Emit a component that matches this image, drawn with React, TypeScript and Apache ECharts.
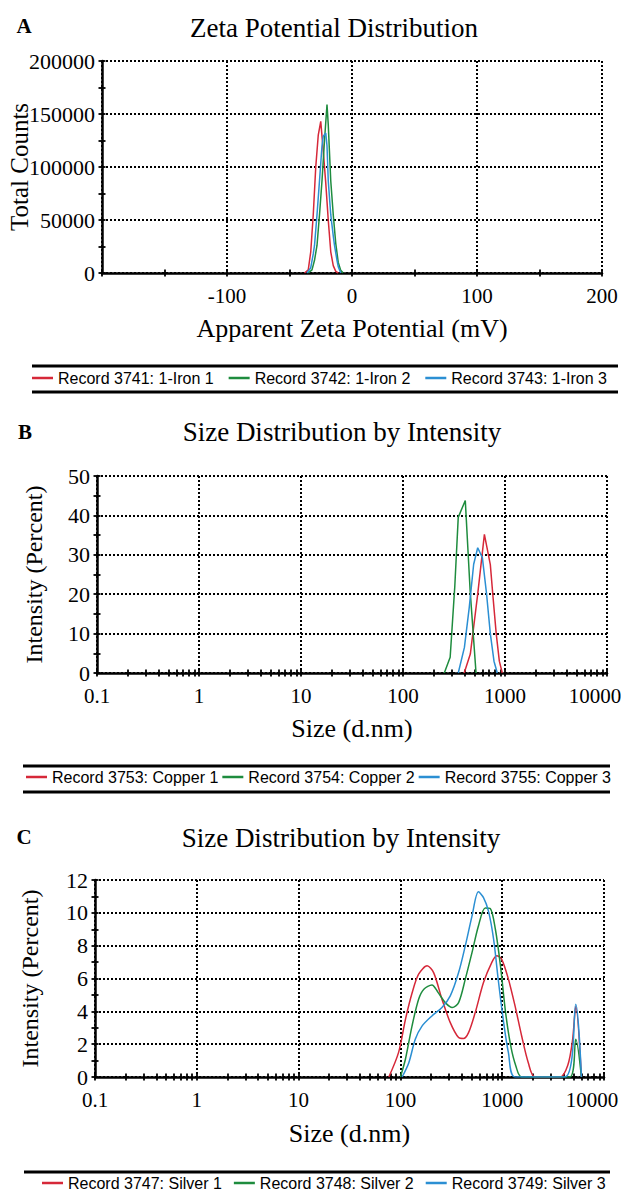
import React, { useEffect, useRef } from 'react';
import * as echarts from 'echarts';

const SERIF = '"Liberation Serif", "Times New Roman", serif';
const SANS = '"Liberation Sans", Arial, sans-serif';
const COLORS = ['#d62839', '#1e8c3e', '#2b8fd3'];

// ---------- Panel A: zeta potential (mV, total counts) ----------
const ironNames = ['Record 3741: 1-Iron 1', 'Record 3742: 1-Iron 2', 'Record 3743: 1-Iron 3'];
const iron1 = [[-38, 0], [-35, 3000], [-33, 20000], [-31, 55000], [-29, 100000], [-27, 130000], [-25, 143000], [-23, 115000], [-21, 85000], [-19, 50000], [-17, 20000], [-15, 7000], [-13, 1500], [-11, 0]];
const iron2 = [[-35, 0], [-32, 3000], [-30, 12000], [-28, 26000], [-26, 55000], [-24, 87000], [-22, 125000], [-20, 159000], [-19, 140000], [-17, 87000], [-15, 55000], [-13, 28000], [-11, 10000], [-9, 2500], [-7, 0]];
const iron3 = [[-36, 0], [-33, 5000], [-31, 18000], [-30, 26000], [-28, 55000], [-26, 87000], [-24, 120000], [-23, 129000], [-21, 132000], [-20, 120000], [-19, 87000], [-17, 55000], [-15, 35000], [-14, 26000], [-12, 12000], [-11, 6000], [-9, 0]];
const zetaTicks = [-200, -150, -100, -50, 0, 50, 100, 150, 200];
const countTicks = [0, 25000, 50000, 75000, 100000, 125000, 150000, 175000, 200000];

// ---------- Panel B: copper size distribution (d.nm, %) ----------
const copperNames = ['Record 3753: Copper 1', 'Record 3754: Copper 2', 'Record 3755: Copper 3'];
const copper1 = [[398, 0], [457, 4.8], [540, 20], [628, 35.2], [718, 27.5], [760, 19.8], [820, 10], [880, 3], [940, 0]];
const copper2 = [[254, 0], [290, 4], [322, 22], [348, 39.5], [408, 43.8], [455, 21], [520, 0]];
const copper3 = [[348, 0], [400, 6.5], [446, 16.6], [493, 27.6], [540, 31.8], [600, 29.3], [660, 20], [718, 10], [780, 3], [840, 0]];
const percentTicksB = [0, 5, 10, 15, 20, 25, 30, 35, 40, 45, 50];

// ---------- Panel C: silver size distribution (d.nm, %) ----------
const silverNames = ['Record 3747: Silver 1', 'Record 3748: Silver 2', 'Record 3749: Silver 3'];
const silver1 = [[77, 0], [96, 1.5], [112, 3.5], [130, 5.1], [151, 6.26], [183, 6.77], [212, 6.36], [256, 4.74], [309, 3.31], [373, 2.4], [417, 2.34], [467, 2.7], [543, 3.92], [655, 5.75], [789, 6.97], [884, 7.38], [989, 7.17], [1151, 5.96], [1337, 4.33], [1553, 2.5], [1804, 0.87], [2100, 0], [3700, 0], [4400, 0.7], [4900, 2.2], [5280, 4.3], [6000, 0]];
const silver2 = [[100, 0], [112, 1.08], [130, 3.1], [151, 4.74], [170, 5.35], [204, 5.61], [235, 5.14], [276, 4.53], [323, 4.23], [373, 4.53], [434, 5.96], [505, 7.58], [584, 9.2], [681, 10.3], [763, 10.26], [857, 9.0], [962, 6.77], [1080, 3.92], [1213, 1.89], [1362, 0.67], [1553, 0], [4610, 0], [5280, 2.3], [6000, 0]];
const silver3 = [[104, 0], [121, 0.87], [140, 2.3], [163, 3.1], [204, 3.72], [256, 4.23], [309, 4.94], [373, 6.36], [434, 7.99], [505, 9.8], [584, 11.28], [655, 10.93], [733, 10.1], [823, 8.4], [913, 5.96], [1024, 3.5], [1151, 1.48], [1337, 0], [4120, 0], [5280, 4.43], [6000, 0]];
const percentTicksC = [0, 1, 2, 3, 4, 5, 6, 7, 8, 9, 10, 11, 12];

const sizeTicks = [
  0.1, 0.2, 0.3, 0.4, 0.5, 0.6, 0.7, 0.8, 0.9,
  1, 2, 3, 4, 5, 6, 7, 8, 9,
  10, 20, 30, 40, 50, 60, 70, 80, 90,
  100, 200, 300, 400, 500, 600, 700, 800, 900,
  1000, 2000, 3000, 4000, 5000, 6000, 7000, 8000, 9000, 10000,
];

const tickLine = { color: '#000', width: 1.8 };
const axisLine = { show: true, onZero: false, lineStyle: { color: '#000', width: 2.5 } };
const gridLine = { show: true, lineStyle: { color: '#000', width: 2, type: [2, 2] as any } };
const xLabelStyle = { color: '#000', fontFamily: SERIF, fontSize: 21 };
const yLabelStyle = { color: '#000', fontFamily: SERIF, fontSize: 22 };
const xNameStyle = { color: '#000', fontFamily: SERIF, fontSize: 26 };
const yNameStyle = { color: '#000', fontFamily: SERIF, fontSize: 24 };

// main axis (line, labels, grid) + two tick-only overlays (inside / outside) so that ticks cross the axis
function axisSet(base: any, ticks: number[], mainExtra: any) {
  const main = {
    ...base,
    axisLine,
    axisTick: { show: false },
    splitLine: gridLine,
    nameMoveOverlap: false,
    ...mainExtra,
  };
  const tickAxis = (inside: boolean) => ({
    ...base,
    axisLine: { show: false, onZero: false },
    axisTick: { show: true, inside, length: 3.5, customValues: ticks, lineStyle: tickLine },
    axisLabel: { show: false },
    splitLine: { show: false },
  });
  return [main, tickAxis(true), tickAxis(false)];
}

const plain = (v: number) => String(v);
// the last log label sits a little left of its tick, as in the reference
const sizeLabel = (v: number) => (v >= 10000 ? `{m|${v}}` : String(v));
const sizeRich = { m: { ...xLabelStyle, padding: [0, 24, 0, 0] } };

function buildOption(): any {
  const xA = axisSet({ gridIndex: 0, type: 'value', min: -200, max: 200, interval: 100, position: 'bottom' }, zetaTicks, {
    axisLabel: { ...xLabelStyle, margin: 12, formatter: (v: number) => (v === -200 ? '' : String(v)) },
    name: 'Apparent Zeta Potential (mV)', nameLocation: 'middle', nameGap: 42, nameTextStyle: xNameStyle,
  });
  const yA = axisSet({ gridIndex: 0, type: 'value', min: 0, max: 200000, interval: 50000, position: 'left' }, countTicks, {
    axisLabel: { ...yLabelStyle, margin: 7, formatter: plain },
    name: 'Total Counts', nameLocation: 'middle', nameGap: 70, nameTextStyle: { ...yNameStyle, fontSize: 25 },
  });
  const xB = axisSet({ gridIndex: 1, type: 'log', logBase: 10, min: 0.1, max: 10000, position: 'bottom' }, sizeTicks, {
    axisLabel: { ...xLabelStyle, margin: 12, formatter: sizeLabel, rich: sizeRich },
    name: 'Size (d.nm)', nameLocation: 'middle', nameGap: 42, nameTextStyle: xNameStyle,
  });
  const yB = axisSet({ gridIndex: 1, type: 'value', min: 0, max: 50, interval: 10, position: 'left' }, percentTicksB, {
    axisLabel: { ...yLabelStyle, margin: 7, formatter: plain },
    name: 'Intensity (Percent)', nameLocation: 'middle', nameGap: 51, nameTextStyle: yNameStyle,
  });
  const xC = axisSet({ gridIndex: 2, type: 'log', logBase: 10, min: 0.1, max: 10000, position: 'bottom' }, sizeTicks, {
    axisLabel: { ...xLabelStyle, margin: 12, formatter: sizeLabel, rich: sizeRich },
    name: 'Size (d.nm)', nameLocation: 'middle', nameGap: 43, nameTextStyle: xNameStyle,
  });
  const yC = axisSet({ gridIndex: 2, type: 'value', min: 0, max: 12, interval: 2, position: 'left' }, percentTicksC, {
    axisLabel: { ...yLabelStyle, margin: 7, formatter: plain },
    name: 'Intensity (Percent)', nameLocation: 'middle', nameGap: 53, nameTextStyle: yNameStyle,
  });

  // main axes are at indices 0, 3, 6
  const mk = (name: string, data: number[][], i: number, axis: number, smooth: number | boolean) => ({
    type: 'line', name, data, xAxisIndex: axis, yAxisIndex: axis, showSymbol: false, symbol: 'none',
    smooth, lineStyle: { color: COLORS[i], width: 1.5 }, itemStyle: { color: COLORS[i] }, z: 3 + i,
  });

  const legendBase = {
    icon: 'rect', itemWidth: 21, itemHeight: 2.5, padding: 0, selectedMode: false,
    textStyle: { color: '#000', fontFamily: SANS, fontSize: 16, lineHeight: 16 },
  };

  const text = (t: string, x: number, y: number, font: string) => ({
    type: 'text', x, y,
    style: { text: t, font, fill: '#000', textAlign: 'center', textVerticalAlign: 'middle' },
  });
  const rule = (x: number, y: number, w: number) => ({
    type: 'rect', shape: { x, y, width: w, height: 3 }, style: { fill: '#000' },
  });

  const gridBase = { containLabel: false, outerBoundsMode: 'none' };

  return {
    animation: false,
    backgroundColor: '#fff',
    grid: [
      { ...gridBase, left: 102, top: 61, width: 500, height: 212 },
      { ...gridBase, left: 97, top: 476, width: 510, height: 197 },
      { ...gridBase, left: 95, top: 880, width: 509, height: 197 },
    ],
    xAxis: [...xA, ...xB, ...xC],
    yAxis: [...yA, ...yB, ...yC],
    legend: [
      { ...legendBase, data: ironNames, left: 32, top: 370, itemGap: 15 },
      { ...legendBase, data: copperNames, left: 26, top: 769, itemGap: 4 },
      { ...legendBase, data: silverNames, left: 42, top: 1175, itemGap: 12 },
    ],
    graphic: [
      text('A', 24, 26, `bold 21px ${SERIF}`),
      text('Zeta Potential Distribution', 334, 28, `27px ${SERIF}`),
      text('B', 25, 432, `bold 21px ${SERIF}`),
      text('Size Distribution by Intensity', 342, 432, `27px ${SERIF}`),
      text('C', 24, 837, `bold 21px ${SERIF}`),
      text('Size Distribution by Intensity', 341, 838, `27px ${SERIF}`),
      rule(32, 364.5, 586),
      rule(32, 390.5, 586),
      rule(23, 764.5, 587),
      rule(23, 790.5, 587),
      rule(24, 1170.5, 586),
    ],
    series: [
      mk(ironNames[0], iron1, 0, 0, false),
      mk(ironNames[1], iron2, 1, 0, false),
      mk(ironNames[2], iron3, 2, 0, false),
      mk(copperNames[0], copper1, 0, 3, false),
      mk(copperNames[1], copper2, 1, 3, false),
      mk(copperNames[2], copper3, 2, 3, false),
      mk(silverNames[0], silver1, 0, 6, 0.3),
      mk(silverNames[1], silver2, 1, 6, 0.3),
      mk(silverNames[2], silver3, 2, 6, 0.3),
    ],
  };
}

export default function App() {
  const ref = useRef<HTMLDivElement>(null);
  useEffect(() => {
    if (!ref.current) return;
    const chart = echarts.init(ref.current, undefined, { renderer: 'svg' });
    chart.setOption(buildOption());
    return () => chart.dispose();
  }, []);
  return (
    <div
      ref={ref}
      style={{ position: 'absolute', left: 0, top: 0, width: 621, height: 1195, background: '#fff' }}
    />
  );
}
